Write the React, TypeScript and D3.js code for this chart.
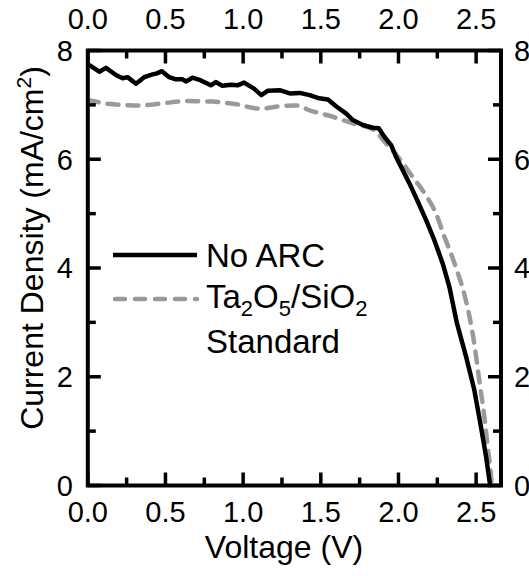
import * as d3 from "d3";

// No ARC (solid black) — voltage / current density
const noArcV = [
  0.0, 0.01, 0.074, 0.117, 0.181, 0.224, 0.256, 0.31, 0.363, 0.417, 0.445,
  0.477, 0.524, 0.567, 0.61, 0.631, 0.674, 0.728, 0.792, 0.824, 0.867, 0.92,
  0.963, 1.006, 1.07, 1.117, 1.16, 1.235, 1.3, 1.364, 1.428, 1.49, 1.546, 1.6,
  1.664, 1.706, 1.77, 1.835, 1.873, 1.91, 1.953, 1.985, 2.017, 2.07, 2.12,
  2.178, 2.231, 2.285, 2.328, 2.375, 2.435, 2.488, 2.531, 2.564, 2.585, 2.59,
];
const noArcJ = [
  7.75, 7.73, 7.61, 7.68, 7.55, 7.49, 7.51, 7.39, 7.51, 7.56, 7.58, 7.62,
  7.51, 7.47, 7.47, 7.43, 7.5, 7.45, 7.36, 7.42, 7.35, 7.37, 7.36, 7.41, 7.3,
  7.18, 7.26, 7.27, 7.21, 7.22, 7.18, 7.12, 7.1, 6.97, 6.84, 6.72, 6.63, 6.58,
  6.57, 6.41, 6.26, 6.04, 5.86, 5.56, 5.25, 4.88, 4.51, 4.08, 3.65, 3.0, 2.37,
  1.76, 1.08, 0.53, 0.1, 0,
];

// Ta2O5/SiO2 Standard (dashed grey)
const taV = [
  0.0, 0.164, 0.335, 0.485, 0.646, 0.806, 0.957, 1.107, 1.256, 1.343, 1.428,
  1.556, 1.706, 1.835, 1.92, 2.006, 2.09, 2.178, 2.242, 2.29, 2.371, 2.43,
  2.488, 2.52, 2.553, 2.574, 2.596, 2.6,
];
const taJ = [
  7.09, 7.01, 6.99, 7.03, 7.07, 7.06, 7.01, 6.93, 6.98, 6.99, 6.9, 6.8, 6.66,
  6.55, 6.29, 6.01, 5.68, 5.33, 5.0, 4.62, 4.0, 3.45, 2.61, 1.94, 1.26, 0.71,
  0.16, 0,
];

const xMajor = [0, 0.5, 1.0, 1.5, 2.0, 2.5];
const xMinor = [0.25, 0.75, 1.25, 1.75, 2.25];
const yMajor = [0, 2, 4, 6, 8];
const yMinor = [1, 3, 5, 7];

const W = 529;
const H = 576;
const FONT = "'Liberation Sans', Arial, Helvetica, sans-serif";

export default function App() {
  const left = 87.8;
  const right = 501;
  const top = 50.5;
  const bottom = 485.5;

  const x = d3.scaleLinear().domain([0, 2.66]).range([left, right]);
  const y = d3.scaleLinear().domain([0, 8]).range([bottom, top]);

  const noArc = noArcV.map((v, i) => [v, noArcJ[i]] as [number, number]);
  const ta = taV.map((v, i) => [v, taJ[i]] as [number, number]);

  const line = d3
    .line<[number, number]>()
    .x((d) => x(d[0]))
    .y((d) => y(d[1]));
  const smooth = d3
    .line<[number, number]>()
    .x((d) => x(d[0]))
    .y((d) => y(d[1]))
    .curve(d3.curveMonotoneX);

  const major = 13;
  const minor = 8;

  return (
    <svg
      width={W}
      height={H}
      style={{ position: "absolute", left: 0, top: 0, background: "#fff" }}
      fontFamily={FONT}
    >
      <defs>
        <clipPath id="plot">
          <rect x={left} y={top} width={right - left} height={bottom - top} />
        </clipPath>
      </defs>

      {/* data */}
      <g clipPath="url(#plot)">
        <path
          d={smooth(ta) ?? ""}
          fill="none"
          stroke="#9a9a9a"
          strokeWidth={4.5}
          strokeDasharray="11 9"
          strokeLinecap="round"
        />
        <path
          d={line(noArc) ?? ""}
          fill="none"
          stroke="#000"
          strokeWidth={4.5}
          strokeLinejoin="round"
        />
      </g>

      {/* ticks, inward on all four sides */}
      <g stroke="#000" strokeWidth={3.5}>
        {xMajor.map((v) => (
          <g key={"xM" + v}>
            <line x1={x(v)} x2={x(v)} y1={bottom} y2={bottom - major} />
            <line x1={x(v)} x2={x(v)} y1={top} y2={top + major} />
          </g>
        ))}
        {xMinor.map((v) => (
          <g key={"xm" + v}>
            <line x1={x(v)} x2={x(v)} y1={bottom} y2={bottom - minor} />
            <line x1={x(v)} x2={x(v)} y1={top} y2={top + minor} />
          </g>
        ))}
        {yMajor.map((v) => (
          <g key={"yM" + v}>
            <line x1={left} x2={left + major} y1={y(v)} y2={y(v)} />
            <line x1={right} x2={right - major} y1={y(v)} y2={y(v)} />
          </g>
        ))}
        {yMinor.map((v) => (
          <g key={"ym" + v}>
            <line x1={left} x2={left + minor} y1={y(v)} y2={y(v)} />
            <line x1={right} x2={right - minor} y1={y(v)} y2={y(v)} />
          </g>
        ))}
      </g>

      {/* frame */}
      <rect
        x={left}
        y={top}
        width={right - left}
        height={bottom - top}
        fill="none"
        stroke="#000"
        strokeWidth={4}
      />

      {/* tick labels */}
      <g fontSize={29} fill="#000">
        {xMajor.map((v) => (
          <text key={"bx" + v} x={x(v)} y={522} textAnchor="middle">
            {v.toFixed(1)}
          </text>
        ))}
        {xMajor.map((v) => (
          <text key={"tx" + v} x={x(v)} y={29} textAnchor="middle">
            {v.toFixed(1)}
          </text>
        ))}
        {yMajor.map((v) => (
          <text key={"ly" + v} x={73} y={y(v)} dy="0.36em" textAnchor="end">
            {v}
          </text>
        ))}
        {yMajor.map((v) => (
          <text key={"ry" + v} x={514} y={y(v)} dy="0.36em" textAnchor="start">
            {v}
          </text>
        ))}
      </g>

      {/* axis titles */}
      <text x={284} y={558} fontSize={32} textAnchor="middle">
        Voltage (V)
      </text>
      <text
        transform={`translate(43, 248) rotate(-90)`}
        fontSize={32}
        textAnchor="middle"
      >
        Current Density (mA/cm
        <tspan fontSize={21} dy={-12}>
          2
        </tspan>
        <tspan dy={12}>)</tspan>
      </text>

      {/* legend */}
      <g>
        <line x1={113} x2={197} y1={255} y2={255} stroke="#000" strokeWidth={4.5} />
        <line
          x1={115}
          x2={197}
          y1={299}
          y2={299}
          stroke="#9a9a9a"
          strokeWidth={4.5}
          strokeDasharray="10 10"
          strokeLinecap="round"
        />
        <g fontSize={33}>
          <text x={206} y={267}>
            No ARC
          </text>
          <text x={206} y={308}>
            Ta
            <tspan fontSize={22} dy={8}>
              2
            </tspan>
            <tspan dy={-8}>O</tspan>
            <tspan fontSize={22} dy={8}>
              5
            </tspan>
            <tspan dy={-8}>/SiO</tspan>
            <tspan fontSize={22} dy={8}>
              2
            </tspan>
          </text>
          <text x={206} y={353}>
            Standard
          </text>
        </g>
      </g>
    </svg>
  );
}
